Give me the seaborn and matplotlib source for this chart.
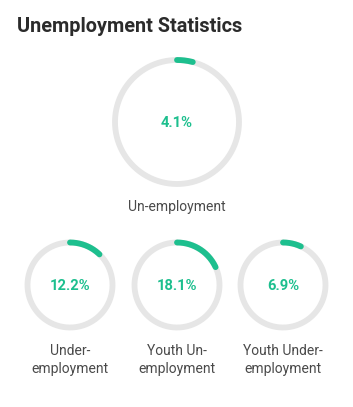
import numpy as np
import pandas as pd
import matplotlib.pyplot as plt
import seaborn as sns

### DATA
labels = ["Un-employment", "Under-\nemployment", "Youth Un-\nemployment", "Youth Under-\nemployment"]
values = [4.1, 12.2, 18.1, 6.9]

### LAYOUT (pixels, figure is 353x407)
centers = [(177, 122), (70, 285), (177, 285), (283, 285)]
radii = [62, 42.5, 42.5, 42.5]
label_y = [207, 360, 360, 360]

GREEN = "#1dbf8e"
TRACK = "#e6e6e6"

sns.set_theme(style="white")
plt.rcParams["font.family"] = ["Roboto", "DejaVu Sans"]

fig = plt.figure(figsize=(3.53, 4.07), dpi=100)
ax = fig.add_axes([0, 0, 1, 1])
ax.set_xlim(0, 353)
ax.set_ylim(407, 0)
ax.axis("off")


def ring(cx, cy, r, frac, n=200):
    # angle measured clockwise from 12 o'clock
    t = np.linspace(0, 2 * np.pi * frac, n)
    return pd.DataFrame({"x": cx + r * np.sin(t), "y": cy - r * np.cos(t)})


for (cx, cy), r, v, lab, ly in zip(centers, radii, values, labels, label_y):
    sns.lineplot(data=ring(cx, cy, r, 1.0, 400), x="x", y="y", sort=False,
                 estimator=None, color=TRACK, lw=4.2, ax=ax)
    arc = sns.lineplot(data=ring(cx, cy, r, v / 100), x="x", y="y", sort=False,
                       estimator=None, color=GREEN, lw=4.2, ax=ax)
    arc.lines[-1].set_solid_capstyle("round")
    ax.text(cx, cy + 1, f"{v}%", ha="center", va="center", fontsize=10.6,
            fontweight="bold", color=GREEN)
    ax.text(cx, ly, lab, ha="center", va="center", fontsize=10,
            color="#4a4a4a", linespacing=1.45)

ax.text(17, 27, "Unemployment Statistics", ha="left", va="center",
        fontsize=14.3, fontweight="bold", color="#2b2b2b")

fig.savefig("out.png", dpi=100)
